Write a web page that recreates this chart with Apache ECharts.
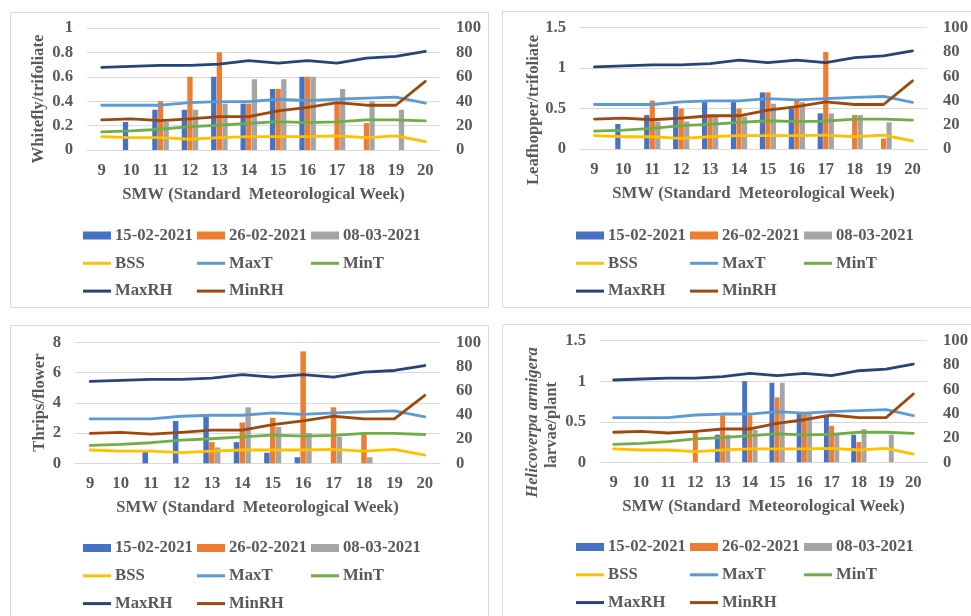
<!DOCTYPE html>
<html>
<head>
<meta charset="utf-8">
<script src="https://cdn.jsdelivr.net/npm/echarts@6/dist/echarts.min.js"></script>
<style>
html,body{margin:0;padding:0;background:#fff;}
#c{width:971px;height:616px;}
</style>
</head>
<body>
<div id="c"></div>
<script>
// ---- data ----
const weeks = ['9','10','11','12','13','14','15','16','17','18','19','20'];
const dateNames = ['15-02-2021','26-02-2021','08-03-2021'];
const weatherNames = ['BSS','MaxT','MinT','MaxRH','MinRH'];

const BSS   = [11, 10.1, 10.1, 8.8, 10.1, 11, 11, 11, 11.5, 10.1, 11.5, 6.8];
const MaxT  = [36.7, 36.7, 36.7, 38.9, 39.7, 39.7, 41.6, 40.5, 41.6, 42.5, 43.3, 38.4];
const MinT  = [14.8, 15.6, 17, 19.2, 20.3, 21.9, 23.3, 22.5, 23, 24.7, 24.7, 23.8];
const MaxRH = [67.7, 68.5, 69.3, 69.3, 70.4, 73.2, 71.2, 73.2, 71.2, 75.3, 76.7, 80.8];
const MinRH = [24.7, 25.5, 24.1, 25.5, 27.4, 27.4, 32, 35, 38.9, 36.7, 36.7, 56.2];

const whiteflyD1 = [null, 0.23, 0.33, 0.33, 0.6, 0.38, 0.5, 0.6, null, null, null, null];
const whiteflyD2 = [null, null, 0.4, 0.6, 0.8, 0.38, 0.5, 0.6, 0.38, 0.22, null, null];
const whiteflyD3 = [null, null, 0.23, 0.33, 0.38, 0.58, 0.58, 0.6, 0.5, 0.4, 0.33, null];

const leafhopperD1 = [null, 0.31, 0.42, 0.53, 0.58, 0.58, 0.7, 0.5, 0.44, null, null, null];
const leafhopperD2 = [null, null, 0.6, 0.5, 0.42, 0.5, 0.7, 0.6, 1.2, 0.42, 0.13, null];
const leafhopperD3 = [null, null, 0.34, 0.34, 0.4, 0.4, 0.56, 0.58, 0.44, 0.42, 0.33, null];

const thripsD1 = [null, null, 0.77, 2.8, 3.1, 1.4, 0.7, 0.4, null, null, null, null];
const thripsD2 = [null, null, null, null, 1.4, 2.7, 3.0, 7.4, 3.7, 1.95, null, null];
const thripsD3 = [null, null, null, null, 1.05, 3.7, 2.4, 2.0, 1.75, 0.4, null, null];

const helicoD1 = [null, null, null, null, 0.34, 1.0, 0.98, 0.6, 0.56, 0.34, null, null];
const helicoD2 = [null, null, null, 0.38, 0.58, 0.58, 0.8, 0.6, 0.45, 0.25, null, null];
const helicoD3 = [null, null, null, null, 0.34, 0.4, 0.98, 0.6, 0.35, 0.41, 0.34, null];

const leftTicks1 = {min: 0, max: 1, interval: 0.2};
const leftTicks2 = {min: 0, max: 1.5, interval: 0.5};
const leftTicks3 = {min: 0, max: 8, interval: 2};
const leftTicks4 = {min: 0, max: 1.5, interval: 0.5};
const rightTicks = {min: 0, max: 100, interval: 20};

// ---- styling ----
const FONT = '"Liberation Serif", "Times New Roman", serif';
const TC = '#595959';
const txt = {fontFamily: FONT, fontWeight: 'bold', fontSize: 16.7, color: TC};
const barColors = ['#4472C4', '#ED7D31', '#A5A5A5'];
const lineColors = ['#FFC000', '#5B9BD5', '#70AD47', '#264478', '#9E480E'];
const weather = [BSS, MaxT, MinT, MaxRH, MinRH];
const GRIDC = '#D9D9D9';

const panels = [
  {grid: {left: 87, top: 28, width: 353, height: 122}, ticks: leftTicks1,
   bars: [whiteflyD1, whiteflyD2, whiteflyD3], legLeft: 83, legTop: 227},
  {grid: {left: 580, top: 27.7, width: 352, height: 121.3}, ticks: leftTicks2,
   bars: [leafhopperD1, leafhopperD2, leafhopperD3], legLeft: 576, legTop: 227},
  {grid: {left: 75, top: 342.3, width: 365, height: 121}, ticks: leftTicks3,
   bars: [thripsD1, thripsD2, thripsD3], legLeft: 83, legTop: 539.5},
  {grid: {left: 600, top: 340.7, width: 332, height: 121.6}, ticks: leftTicks4,
   bars: [helicoD1, helicoD2, helicoD3], legLeft: 576, legTop: 538.5}
];

const grid = [], xAxis = [], yAxis = [], series = [], legend = [];
const lineIcon = 'path://M0,0L28,0L28,3L0,3Z';

panels.forEach((p, i) => {
  grid.push(Object.assign({containLabel: false}, p.grid));
  xAxis.push({
    type: 'category', gridIndex: i, data: weeks,
    axisTick: {show: false},
    axisLine: {show: true, lineStyle: {color: GRIDC, width: 1}},
    axisLabel: Object.assign({margin: 12, interval: 0}, txt),
    name: 'SMW (Standard  Meteorological Week)', nameLocation: 'middle', nameGap: 36,
    nameTextStyle: txt
  });
  yAxis.push({
    type: 'value', gridIndex: i, position: 'left',
    min: p.ticks.min, max: p.ticks.max, interval: p.ticks.interval,
    axisLine: {show: false}, axisTick: {show: false},
    axisLabel: Object.assign({margin: 14}, txt),
    splitLine: {show: true, lineStyle: {color: GRIDC, width: 1}}
  });
  yAxis.push({
    type: 'value', gridIndex: i, position: 'right',
    min: rightTicks.min, max: rightTicks.max, interval: rightTicks.interval,
    axisLine: {show: false}, axisTick: {show: false},
    axisLabel: Object.assign({margin: 16}, txt),
    splitLine: {show: false}
  });
  p.bars.forEach((arr, k) => {
    series.push({
      type: 'bar', name: dateNames[k], xAxisIndex: i, yAxisIndex: 2 * i,
      data: arr, barWidth: '18%', barGap: '6%',
      itemStyle: {color: barColors[k]}, z: 2
    });
  });
  weather.forEach((arr, k) => {
    series.push({
      type: 'line', name: weatherNames[k], xAxisIndex: i, yAxisIndex: 2 * i + 1,
      data: arr, symbol: 'none', smooth: false,
      lineStyle: {color: lineColors[k], width: 2.8, cap: 'round', join: 'round'},
      itemStyle: {color: lineColors[k]}, z: 3
    });
  });
  const cols = [
    [{name: dateNames[0], icon: 'rect'}, {name: 'BSS', icon: lineIcon}, {name: 'MaxRH', icon: lineIcon}],
    [{name: dateNames[1], icon: 'rect'}, {name: 'MaxT', icon: lineIcon}, {name: 'MinRH', icon: lineIcon}],
    [{name: dateNames[2], icon: 'rect'}, {name: 'MinT', icon: lineIcon}]
  ];
  cols.forEach((c, ci) => {
    legend.push({
      orient: 'vertical', left: p.legLeft + ci * 114, top: p.legTop,
      itemWidth: 28, itemHeight: 8, itemGap: 10.8, padding: 0,
      selectedMode: false, symbolKeepAspect: true,
      textStyle: {fontFamily: FONT, fontWeight: 'bold', fontSize: 16.7, color: TC, padding: [0, 0, 0, -1]},
      data: c
    });
  });
});

function vtitle(x, y, text, extra) {
  return {
    type: 'text', x: x, y: y, rotation: Math.PI / 2, silent: true,
    style: Object.assign({
      text: text, fill: TC, font: 'bold 16.7px ' + FONT,
      textAlign: 'center', textVerticalAlign: 'middle'
    }, extra || {})
  };
}

const graphic = [
  {type: 'rect', shape: {x: 10.5, y: 12.5, width: 478, height: 295}, style: {fill: 'none', stroke: GRIDC, lineWidth: 1}, silent: true},
  {type: 'rect', shape: {x: 502.5, y: 11.5, width: 480, height: 296}, style: {fill: 'none', stroke: GRIDC, lineWidth: 1}, silent: true},
  {type: 'rect', shape: {x: 10.5, y: 325.5, width: 478, height: 300}, style: {fill: 'none', stroke: GRIDC, lineWidth: 1}, silent: true},
  {type: 'rect', shape: {x: 502.5, y: 324.5, width: 480, height: 300}, style: {fill: 'none', stroke: GRIDC, lineWidth: 1}, silent: true},
  vtitle(39, 99, 'Whitefly/trifoliate'),
  vtitle(534, 110, 'Leafhopper/trifoliate'),
  vtitle(40, 402.5, 'Thrips/flower'),
  vtitle(533, 422.5, 'Helicoverpa armigera', {font: 'italic bold 16.7px ' + FONT}),
  vtitle(552, 425, 'larvae/plant')
];

const chart = echarts.init(document.getElementById('c'), null, {renderer: 'canvas'});
chart.setOption({
  backgroundColor: '#fff',
  animation: false,
  grid: grid, xAxis: xAxis, yAxis: yAxis, series: series, legend: legend,
  graphic: graphic
});
</script>
</body>
</html>
